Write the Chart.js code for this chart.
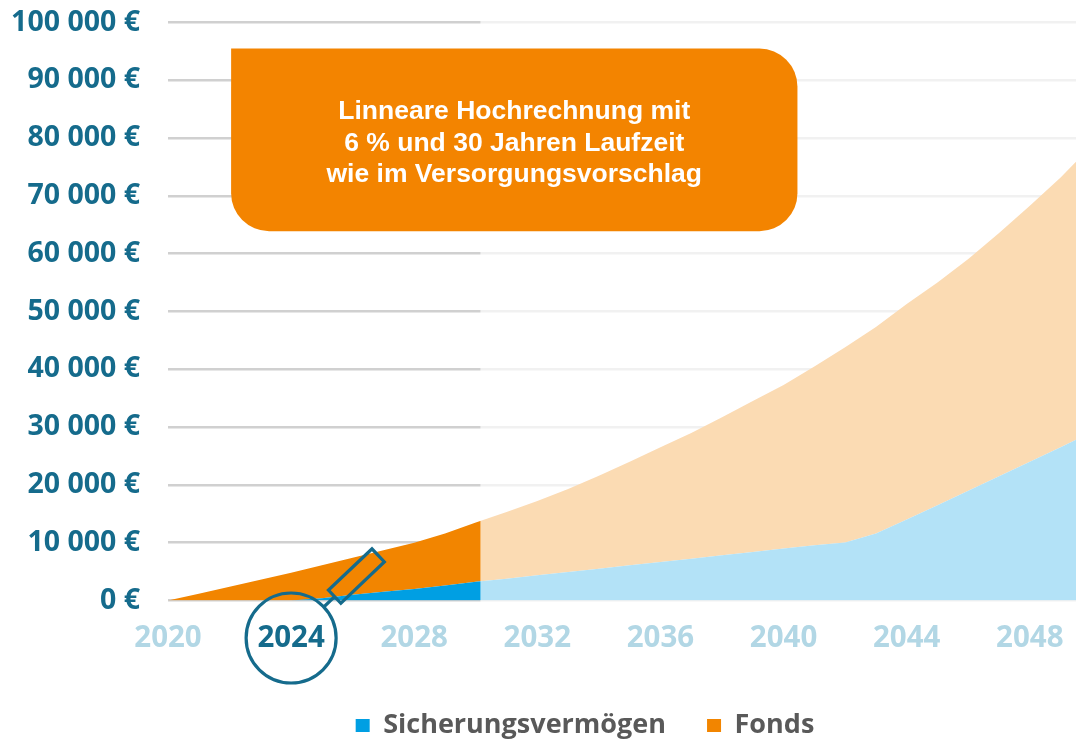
<!DOCTYPE html>
<html><head><meta charset="utf-8">
<script src="https://cdn.jsdelivr.net/npm/chart.js@4.4.1/dist/chart.umd.min.js"></script>
<style>html,body{margin:0;padding:0;background:#fff;overflow:hidden}#wrap{width:1076px;height:739px;position:relative}canvas{display:block}</style>
</head><body><div id="wrap"><canvas id="c" width="1076" height="739"></canvas></div>
<script>
// ---- data ----
const years = [2020,2021,2022,2023,2024,2025,2026,2027,2028,2029,2030,2031,2032,2033,2034,2035,2036,2037,2038,2039,2040,2041,2042,2043,2044,2045,2046,2047,2048,2049,2050];
const sicherungsvermoegen = [0,0,0,0,0,400,1000,1500,2000,2600,3250,3780,4360,4930,5510,6090,6670,7240,7820,8400,8980,9550,10050,11600,14000,16500,19000,21500,24000,26500,29100];
const fonds = [0,1150,2400,3600,4800,5700,6400,7200,8000,9000,10250,11520,12840,14370,16090,17910,19830,21760,23880,26100,28320,30950,33750,35700,37300,38500,40100,42100,44300,46700,49500];
const seriesNames = ['Sicherungsvermögen','Fonds'];
const xTickYears = [2020,2024,2028,2032,2036,2040,2044,2048];
const yTickValues = [0,10000,20000,30000,40000,50000,60000,70000,80000,90000,100000];
const highlightYear = 2024;
const projectionStartYear = 2030.15;
const noteLines = ['Linneare Hochrechnung mit','6 % und 30 Jahren Laufzeit','wie im Versorgungsvorschlag'];

// ---- styles ----
const BLUE = '#009fe3', ORANGE = '#f28500', TEAL = '#156b8c', LIGHT_TICK = '#b2d7e5';
const noteBox = {xFrom: 2022.05, xTo: 2040.45, yFrom: 63900, yTo: 95500};
const LEGEND_LEFT = 94;

function fmtEuro(v){ return String(v).replace(/\B(?=(\d{3})+(?!\d))/g,' ') + ' €'; }

const legendShift = {
  id: 'legendShift',
  afterLayout(chart){ if (chart.legend) chart.legend.left = LEGEND_LEFT; }
};

const overlayPlugin = {
  id: 'projectionFade',
  afterDatasetsDraw(chart){
    const {ctx, chartArea: a, scales: {x}} = chart;
    const px = x.getPixelForValue(projectionStartYear);
    ctx.save();
    ctx.fillStyle = 'rgba(255,255,255,0.7)';
    ctx.fillRect(px, a.top - 4, a.right - px, a.bottom - a.top + 6);
    ctx.restore();
  }
};

const decorPlugin = {
  id: 'decor',
  afterDraw(chart){
    const {ctx, scales: {x, y}} = chart;
    // annotation box
    const bx0 = x.getPixelForValue(noteBox.xFrom), bx1 = x.getPixelForValue(noteBox.xTo);
    const by0 = y.getPixelForValue(noteBox.yTo), by1 = y.getPixelForValue(noteBox.yFrom);
    ctx.save();
    ctx.fillStyle = '#f38400';
    ctx.beginPath();
    ctx.roundRect(bx0, by0, bx1 - bx0, by1 - by0, [0, 38, 38, 38]);
    ctx.fill();
    ctx.fillStyle = '#ffffff';
    ctx.font = 'bold 26.5px "Liberation Sans", Arial, sans-serif';
    ctx.textAlign = 'center';
    ctx.textBaseline = 'alphabetic';
    const cx = (bx0 + bx1) / 2, cy = (by0 + by1) / 2;
    noteLines.forEach((t, i) => ctx.fillText(t, cx, cy - 21 + 31.8 * i));
    ctx.restore();

    // magnifier around highlighted year label
    const mx = x.getPixelForValue(highlightYear), my = x.top + 37.5;
    const ang = -43.5 * Math.PI / 180;
    ctx.save();
    ctx.strokeStyle = TEAL;
    ctx.lineWidth = 3.2;
    ctx.beginPath();
    ctx.arc(mx, my, 45, 0, Math.PI * 2);
    ctx.stroke();
    ctx.translate(mx, my);
    ctx.rotate(ang);
    ctx.beginPath();
    ctx.moveTo(45, 0); ctx.lineTo(60, 0);
    ctx.stroke();
    ctx.strokeRect(60, -9, 60, 18);
    ctx.restore();
  }
};

new Chart(document.getElementById('c'), {
  type: 'line',
  data: {
    datasets: [
      { label: seriesNames[0], data: years.map((yr, i) => ({x: yr, y: sicherungsvermoegen[i]})),
        backgroundColor: BLUE, borderColor: BLUE, borderWidth: 0, pointRadius: 0, fill: 'origin', tension: 0 },
      { label: seriesNames[1], data: years.map((yr, i) => ({x: yr, y: fonds[i]})),
        backgroundColor: ORANGE, borderColor: ORANGE, borderWidth: 0, pointRadius: 0, fill: '-1', tension: 0 }
    ]
  },
  options: {
    responsive: false,
    animation: false,
    devicePixelRatio: 1,
    layout: { padding: { top: 22.5, right: 0, left: 0, bottom: -10 } },
    plugins: {
      tooltip: { enabled: false },
      legend: {
        position: 'bottom',
        labels: {
          boxWidth: 14, boxHeight: 13, padding: 41,
          color: '#595959',
          font: { family: '"Open Sans", sans-serif', weight: 'bold', size: 27 }
        }
      }
    },
    scales: {
      x: {
        type: 'linear', min: 2020, max: 2049.5,
        afterBuildTicks: s => { s.ticks = xTickYears.map(v => ({value: v})); },
        afterFit: s => { s.height = 70.5; s.paddingLeft = 0; s.paddingRight = 0; },
        grid: { display: false, drawTicks: false },
        border: { display: false },
        ticks: {
          padding: 20, maxRotation: 0, autoSkip: false,
          callback: v => String(v),
          color: c => c.tick && c.tick.value === highlightYear ? TEAL : LIGHT_TICK,
          font: { family: '"Open Sans", sans-serif', weight: 'bold', size: 29.5 }
        }
      },
      y: {
        stacked: true, min: 0, max: 100000,
        afterBuildTicks: s => { s.ticks = yTickValues.map(v => ({value: v})); },
        afterFit: s => { s.width = 168; s.paddingTop = 0; s.paddingBottom = 0; },
        grid: { color: '#d0d0d0', lineWidth: 2.6, drawTicks: false },
        border: { display: false },
        ticks: {
          padding: 28, callback: v => fmtEuro(v), color: TEAL,
          font: { family: '"Open Sans", sans-serif', weight: 'bold', size: 28.5 }
        }
      }
    }
  },
  plugins: [legendShift, overlayPlugin, decorPlugin]
});
</script>
</body></html>
